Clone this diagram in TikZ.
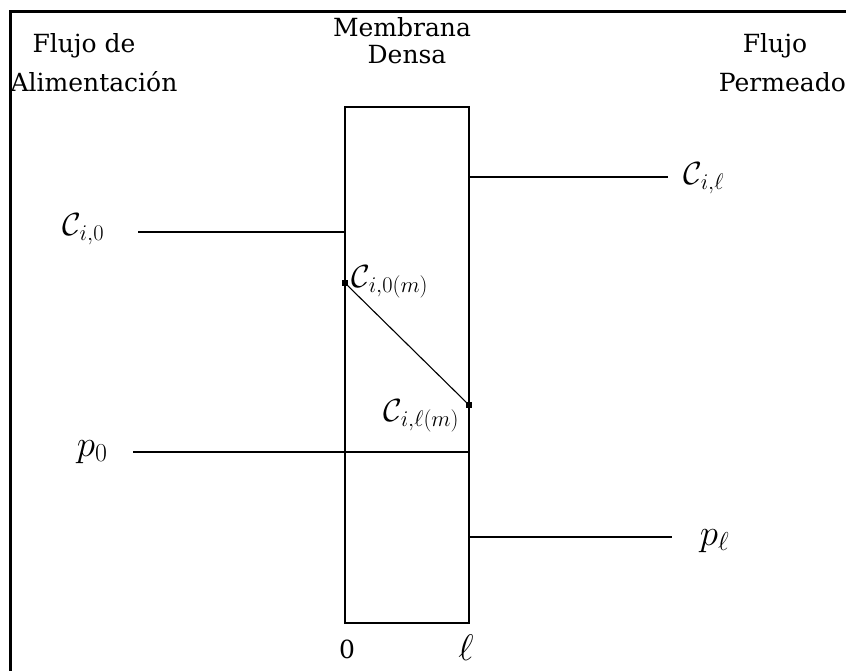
\RequirePackage{fix-cm}
\documentclass[tikz,border=0pt]{standalone}
\usepackage{fontspec}
\setmainfont{DejaVu Serif}
\begin{document}
\begin{tikzpicture}[x=1pt,y=-1pt,line width=1.8pt,
  txt/.style={font=\fontsize{25}{29}\selectfont,inner sep=0pt},
  mlab/.style={font=\fontsize{32}{36}\selectfont,inner sep=0pt,anchor=base west},
  plab/.style={font=\fontsize{37}{40}\selectfont,inner sep=0pt,anchor=base west},
  sq/.style={fill,rectangle,minimum size=5.5pt,inner sep=0pt},
  wire/.style={line width=1.9pt},
  thin/.style={line width=1.1pt}]
\useasboundingbox (0,0) rectangle (846,671);
% frame (cut off at right and bottom)
\coordinate (fbl) at (10,671);
\coordinate (ftr) at (846,12);
\draw[line width=3pt] (fbl) |- (ftr);
% headings
\node[txt] (fl1) at (84,46) {Flujo de};
\node[txt] (fl2) at (94,82) {Alimentación};
\node[txt] (mb1) at (402,27) {Membrana};
\node[txt] (mb2) at (407,55) {Densa};
\node[txt] (fp1) at (775,46) {Flujo};
\node[txt,anchor=west] (fp2) at (718,82) {Permeado};
% membrane
\coordinate (rtl) at (345,107);
\coordinate (rbr) at (469,623);
\draw[wire] (rtl) rectangle (rbr);
% feed side lines
\coordinate (c0a) at (138,232);
\coordinate (c0b) at (345,232);
\draw[wire] (c0a) -- (c0b);
\coordinate (p0a) at (133,452);
\coordinate (p0b) at (469,452);
\draw[wire] (p0a) -- (p0b);
% permeate side lines
\coordinate (cla) at (469,177);
\coordinate (clb) at (668,177);
\draw[wire] (cla) -- (clb);
\coordinate (pla) at (469,537);
\coordinate (plb) at (672,537);
\draw[wire] (pla) -- (plb);
% concentration profile in membrane
\node[sq] (m0) at (345,283) {};
\node[sq] (ml) at (469,405) {};
\draw[thin] (m0.center) -- (ml.center);
% labels
\node[mlab] (lc0) at (62,236) {$\mathcal{C}_{i,0}$};
\node[mlab] (lcl) at (683,185) {$\mathcal{C}_{i,\ell}$};
\node[mlab] (lc0m) at (351,287) {$\mathcal{C}_{i,0(m)}$};
\node[mlab] (lclm) at (383,421) {$\mathcal{C}_{i,\ell(m)}$};
\node[plab] (lp0) at (76,456) {$p_0$};
\node[plab] (lpl) at (699,545) {$p_\ell$};
\node[txt] (x0) at (347,649) {0};
\node[plab,anchor=center] (xl) at (466,648) {$\ell$};
\end{tikzpicture}
\end{document}
